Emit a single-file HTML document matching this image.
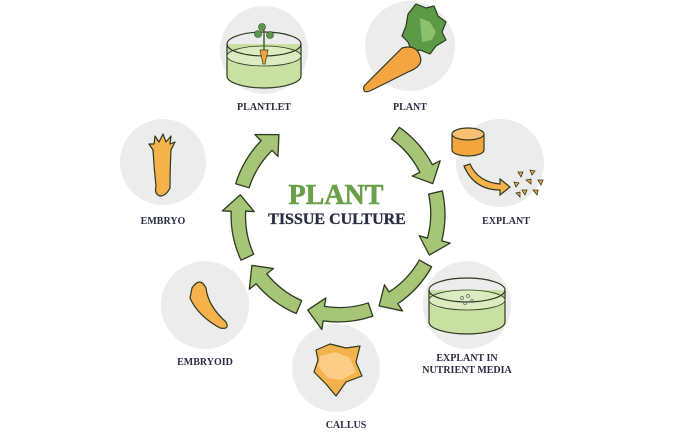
<!DOCTYPE html>
<html><head><meta charset="utf-8"><style>
html,body{margin:0;padding:0;background:#fff;}
svg{display:block;}
text{font-family:"Liberation Serif",serif;font-weight:bold;fill:#2b2d42;}
</style></head><body>
<svg width="700" height="439" viewBox="0 0 700 439" xmlns="http://www.w3.org/2000/svg">
<defs>
<path id="arr" d="M338,108 A107,107 0 0 1 386.5,119.7 L390.6,112 L397.6,135 L376.5,140.5 L380.6,133 A93,93 0 0 0 338,122 Z" fill="#a6c576" stroke="#2d3a22" stroke-width="1.3" stroke-linejoin="round"/>
</defs>
<g fill="#ececec">
<circle cx="264" cy="50" r="44"/>
<circle cx="410" cy="46" r="45"/>
<circle cx="500" cy="163" r="44"/>
<circle cx="467" cy="305" r="44"/>
<circle cx="336" cy="368" r="44"/>
<circle cx="205" cy="305" r="44"/>
<circle cx="163" cy="162" r="43"/>
</g>
<use href="#arr" transform="rotate(35 338 215)"/>
<use href="#arr" transform="rotate(77 338 215)"/>
<use href="#arr" transform="rotate(119 338 215)"/>
<use href="#arr" transform="rotate(161 338 215)"/>
<use href="#arr" transform="rotate(203 338 215)"/>
<use href="#arr" transform="rotate(245 338 215)"/>
<use href="#arr" transform="rotate(287 338 215)"/>

<!-- plantlet dish -->
<g stroke="#2d3a22" stroke-width="1.2">
<path d="M227,44 L227,76 A37,12 0 0 0 301,76 L301,44" fill="#c9e0a3"/>
<ellipse cx="264" cy="56" rx="37" ry="10" fill="#dcecc0" stroke-width="0.8"/>
<ellipse cx="264" cy="44" rx="37" ry="12" fill="none"/>
<path d="M264,55 L264,30" fill="none" stroke="#3d6b2a" stroke-width="1.5"/>
<circle cx="258" cy="34" r="3.5" fill="#5d9a48" stroke-width="0.6"/>
<circle cx="270" cy="35" r="3.5" fill="#5d9a48" stroke-width="0.6"/>
<circle cx="262" cy="27" r="3.5" fill="#5d9a48" stroke-width="0.6"/>
<path d="M260,50 L268,50 L265,64 L263,64 Z" fill="#f4a540" stroke-width="0.7"/>
</g>
<!-- carrot -->
<g stroke="#2d3a22" stroke-width="1.2" stroke-linejoin="round">
<path d="M408,14 l8,-10 l10,4 l8,-2 l4,10 l8,6 l-4,10 l4,8 l-10,6 l-6,8 l-10,-4 l-8,2 l-4,-10 l-6,-6 l4,-10 Z" fill="#5d9a48"/>
<path d="M420,18 l10,4 l6,10 l-4,8 l-10,2 Z" fill="#8cc06a" stroke="none"/>
<path d="M402,48 Q416,44 420,56 Q424,66 408,72 L372,90 Q362,95 364,86 Z" fill="#f4a540"/>
</g>
<!-- explant -->
<g stroke="#2d3a22" stroke-width="1.2">
<path d="M452,134 L452,150 A16,6 0 0 0 484,150 L484,134" fill="#f3a63c"/>
<ellipse cx="468" cy="134" rx="16" ry="6" fill="#f8c070"/>
<path d="M470,164 Q478,182 500,184 L500,179 L510,187 L500,195 L500,190 Q474,190 464,166 Z" fill="#f5b14a"/>
<g fill="#f3a63c" stroke-width="0.8">
<path d="M518,172 l5,0 l-2,5z"/><path d="M530,170 l5,1 l-3,4z"/><path d="M526,180 l5,-1 l0,5z"/>
<path d="M514,182 l5,1 l-3,4z"/><path d="M538,180 l5,0 l-2,5z"/><path d="M522,190 l5,0 l-2,5z"/>
<path d="M533,190 l5,0 l-1,5z"/><path d="M516,193 l4,-1 l0,5z"/>
</g>
</g>
<!-- media dish -->
<g stroke="#2d3a22" stroke-width="1.2">
<path d="M429,290 L429,322 A38,12 0 0 0 505,322 L505,290" fill="#c9e0a3"/>
<ellipse cx="467" cy="300" rx="38" ry="10" fill="#dcecc0" stroke-width="0.8"/>
<ellipse cx="467" cy="290" rx="38" ry="12" fill="none"/>
<g fill="none" stroke="#666" stroke-width="0.7"><circle cx="462" cy="298" r="1.5"/><circle cx="468" cy="296" r="1.5"/><circle cx="472" cy="301" r="1.5"/><circle cx="465" cy="303" r="1.5"/></g>
</g>
<!-- callus -->
<path d="M316,350 L330,344 L346,348 L360,346 L356,362 L362,376 L346,382 L336,396 L326,384 L314,372 L318,360 Z" fill="#f5b14a" stroke="#2d3a22" stroke-width="1.2" stroke-linejoin="round"/>
<path d="M320,356 L336,352 L350,358 L356,372 L342,380 L328,378 L318,366 Z" fill="#fbcd86"/>
<!-- embryoid -->
<path d="M192,288 Q200,276 206,288 Q208,306 226,322 Q230,330 220,328 Q198,316 190,298 Z" fill="#f5b14a" stroke="#2d3a22" stroke-width="1.2"/>
<!-- embryo -->
<path d="M155,136 l4,6 l4,-8 l3,8 l5,-6 l-1,8 l5,-2 l-4,8 Q170,170 170,188 Q166,196 160,196 Q154,194 156,186 Q154,168 153,150 l-4,-6 l5,0 Z" fill="#f5b14a" stroke="#2d3a22" stroke-width="1.2" stroke-linejoin="round"/>

<g font-size="10" text-anchor="middle">
<text x="264" y="110">PLANTLET</text>
<text x="410" y="110">PLANT</text>
<text x="506" y="224">EXPLANT</text>
<text x="467" y="361">EXPLANT IN</text>
<text x="467" y="373">NUTRIENT MEDIA</text>
<text x="346" y="428">CALLUS</text>
<text x="205" y="365">EMBRYOID</text>
<text x="163" y="224">EMBRYO</text>
</g>
<text x="336" y="204" font-size="28" text-anchor="middle" style="fill:#6aa04a;stroke:#6aa04a;stroke-width:0.6">PLANT</text>
<text x="337" y="224" font-size="16" text-anchor="middle" style="stroke:#2b2d42;stroke-width:0.3">TISSUE CULTURE</text>
</svg>
</body></html>
